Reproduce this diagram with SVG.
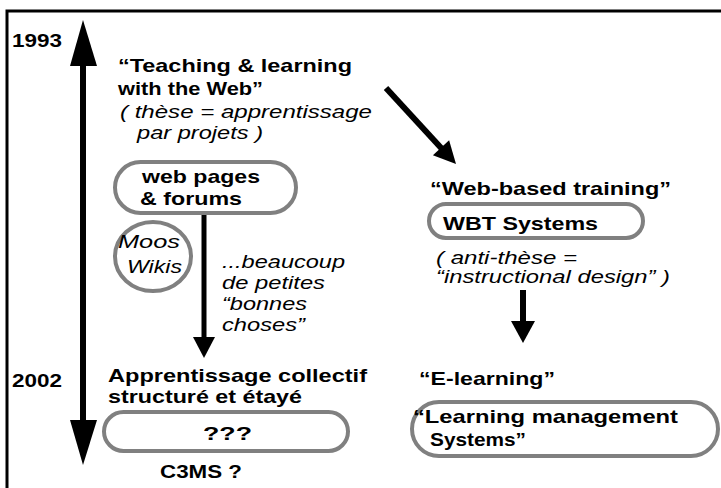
<svg xmlns="http://www.w3.org/2000/svg" width="721" height="488" viewBox="0 0 721 488">
<defs>
<style>
text{font-family:"Liberation Sans",Arial,sans-serif;font-size:19px;fill:#000}
.b{font-weight:bold}
.i{font-style:italic}
.s{font-size:17.5px}
.pill{fill:#fff;stroke:#808080;stroke-width:4}
.ln{stroke:#000;fill:none}
.hd{fill:#000}
</style>
</defs>
<rect width="721" height="488" fill="#fff"/>
<path d="M7,488 V11 H721" fill="none" stroke="#000" stroke-width="3"/>
<g id="connectors">
<line class="ln" x1="83" y1="60" x2="83" y2="425" stroke-width="6"/>
<polygon class="hd" points="83,20 70,66 97,66"/>
<polygon class="hd" points="83,465 70,420 97,420"/>
<line class="ln" x1="204" y1="213" x2="204" y2="342" stroke-width="5"/>
<polygon class="hd" points="204,358 193,337 215,337"/>
<line class="ln" x1="386" y1="88" x2="443" y2="150" stroke-width="6"/>
<polygon class="hd" points="456,164 432.9,155.3 449.1,140.3"/>
<line class="ln" x1="523" y1="290" x2="523" y2="325" stroke-width="6"/>
<polygon class="hd" points="523,343 511,321 535,321"/>
</g>
<g id="year1993"><text class="b" x="12" y="47" textLength="50" lengthAdjust="spacingAndGlyphs">1993</text></g>
<g id="year2002"><text class="b" x="12" y="387" textLength="50" lengthAdjust="spacingAndGlyphs">2002</text></g>
<g id="teaching">
<text class="b" x="118" y="72" textLength="234" lengthAdjust="spacingAndGlyphs">“Teaching &amp; learning</text>
<text class="b" x="118" y="95" textLength="145" lengthAdjust="spacingAndGlyphs">with the Web”</text>
<text class="i" x="120" y="118" textLength="252" lengthAdjust="spacingAndGlyphs">( thèse = apprentissage</text>
<text class="i" x="137" y="139" textLength="126" lengthAdjust="spacingAndGlyphs">par projets )</text>
</g>
<g id="webpages">
<rect class="pill" x="115" y="162" width="181" height="51" rx="25.5"/>
<text class="b" x="142" y="183" textLength="118" lengthAdjust="spacingAndGlyphs">web pages</text>
<text class="b" x="140" y="205" textLength="102" lengthAdjust="spacingAndGlyphs">&amp; forums</text>
</g>
<g id="moos">
<ellipse class="pill" cx="153" cy="256.5" rx="38" ry="34.5"/>
<text class="i" x="118" y="248" textLength="62" lengthAdjust="spacingAndGlyphs">Moos</text>
<text class="i" x="127" y="273" textLength="55" lengthAdjust="spacingAndGlyphs">Wikis</text>
</g>
<g id="beaucoup">
<text class="i" x="222" y="268" textLength="123" lengthAdjust="spacingAndGlyphs">...beaucoup</text>
<text class="i" x="222" y="289" textLength="103" lengthAdjust="spacingAndGlyphs">de petites</text>
<text class="i" x="222" y="310" textLength="85" lengthAdjust="spacingAndGlyphs">“bonnes</text>
<text class="i" x="222" y="331" textLength="83" lengthAdjust="spacingAndGlyphs">choses”</text>
</g>
<g id="apprentissage">
<text class="b" x="108" y="382" textLength="259" lengthAdjust="spacingAndGlyphs">Apprentissage collectif</text>
<text class="b" x="108" y="403" textLength="194" lengthAdjust="spacingAndGlyphs">structuré et étayé</text>
</g>
<g id="unknown">
<rect class="pill" x="104" y="412" width="244" height="39" rx="19.5"/>
<text class="b" x="203" y="440" textLength="49" lengthAdjust="spacingAndGlyphs">???</text>
</g>
<g id="c3ms"><text class="b" x="160" y="478" textLength="82" lengthAdjust="spacingAndGlyphs">C3MS ?</text></g>
<g id="wbt-title"><text class="b" x="430" y="195" textLength="241" lengthAdjust="spacingAndGlyphs">“Web-based training”</text></g>
<g id="wbt">
<rect class="pill" x="429" y="204" width="214" height="34" rx="17"/>
<text class="b" x="443" y="230" textLength="155" lengthAdjust="spacingAndGlyphs">WBT Systems</text>
</g>
<g id="antithese">
<text class="i s" x="436" y="264" textLength="141" lengthAdjust="spacingAndGlyphs">( anti-thèse =</text>
<text class="i s" x="436" y="283" textLength="234" lengthAdjust="spacingAndGlyphs">“instructional design” )</text>
</g>
<g id="elearning"><text class="b" x="419" y="385" textLength="136" lengthAdjust="spacingAndGlyphs">“E-learning”</text></g>
<g id="lms">
<rect class="pill" x="412" y="402" width="306" height="54" rx="27"/>
<text class="b" x="413" y="423" textLength="265" lengthAdjust="spacingAndGlyphs">“Learning management</text>
<text class="b" x="430" y="446" textLength="96" lengthAdjust="spacingAndGlyphs">Systems”</text>
</g>
</svg>
